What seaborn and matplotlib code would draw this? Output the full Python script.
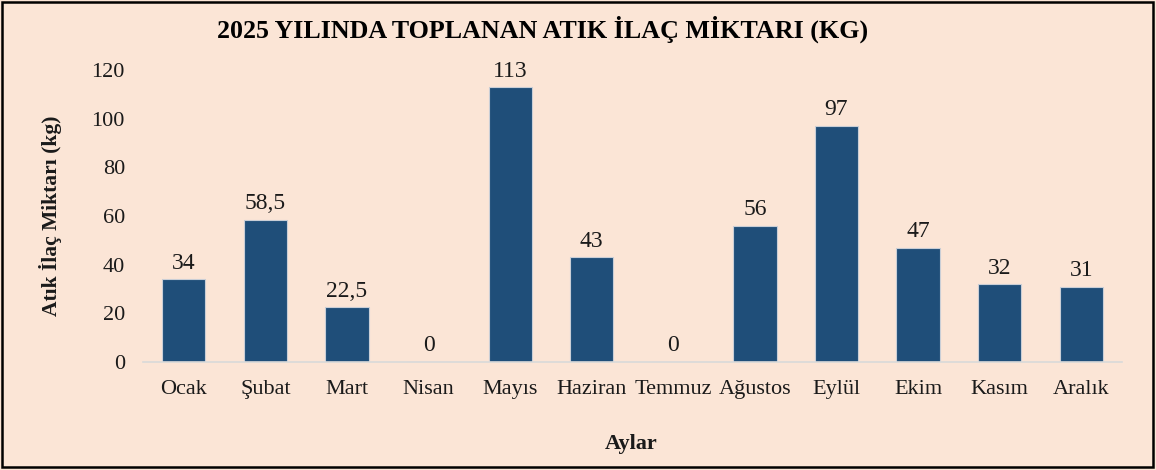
import matplotlib
matplotlib.use("Agg")
import matplotlib.pyplot as plt
import seaborn as sns
import pandas as pd
from matplotlib.patches import Rectangle

months = ["Ocak", "Şubat", "Mart", "Nisan", "Mayıs", "Haziran", "Temmuz",
          "Ağustos", "Eylül", "Ekim", "Kasım", "Aralık"]
amounts = [34, 58.5, 22.5, 0, 113, 43, 0, 56, 97, 47, 32, 31]

title = "2025 YILINDA TOPLANAN ATIK İLAÇ MİKTARI (KG)"
ylabel = "Atık İlaç Miktarı (kg)"
xlabel = "Aylar"

bg = "#FBE5D6"
bar_color = "#1F4E79"
text_color = "#1a1a1a"

sns.set_theme(style="white")
plt.rcParams["font.family"] = ["Liberation Serif", "DejaVu Serif"]

df = pd.DataFrame({"Ay": months, "Miktar": amounts})

fig = plt.figure(figsize=(11.56, 4.70), dpi=100, facecolor=bg)
ax = fig.add_axes([0.1237, 0.2298, 0.9706 - 0.1237, 0.851 - 0.2298])
ax.set_facecolor(bg)

sns.barplot(data=df, x="Ay", y="Miktar", color=bar_color, width=0.53,
            edgecolor="#C9CED6", linewidth=0.8, saturation=1, ax=ax)

ax.set_ylim(0, 120)
ax.set_yticks(range(0, 121, 20))
ax.set_xlim(-0.5, len(months) - 0.5)
ax.tick_params(axis="both", length=0, labelsize=16, colors=text_color)
ax.tick_params(axis="x", pad=13)
ax.tick_params(axis="y", pad=13)

for s in ["top", "right", "left"]:
    ax.spines[s].set_visible(False)
ax.spines["bottom"].set_color("#D9D9D9")
ax.spines["bottom"].set_linewidth(1.2)

def fmt(v):
    return (f"{v:g}").replace(".", ",")

for i, v in enumerate(amounts):
    ax.annotate(fmt(v), (i, v), xytext=(0, 4), textcoords="offset points",
                ha="center", va="bottom", fontsize=17, color=text_color)

ax.set_xlabel(xlabel, fontsize=16, fontweight="bold", color=text_color)
ax.xaxis.set_label_coords(0.4986, -0.246)
ax.set_ylabel(ylabel, fontsize=15.5, fontweight="bold", color=text_color, labelpad=21)

fig.text(0.469, 0.937, title, ha="center", va="center", fontsize=18.7,
         fontweight="bold", color="black")

fig.patches.append(Rectangle((0.002, 0.006), 0.995, 0.99, transform=fig.transFigure,
                             fill=False, edgecolor="black", linewidth=1.8))

fig.savefig("out.png", dpi=100, facecolor=bg)
